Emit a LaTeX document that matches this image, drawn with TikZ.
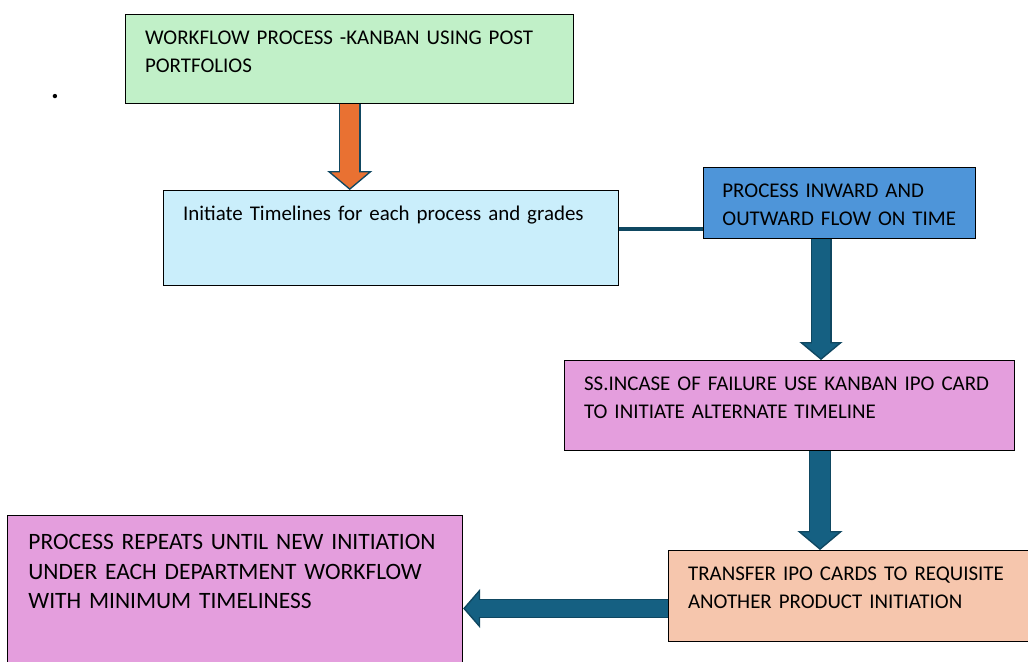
\documentclass[tikz,border=0pt]{standalone}
\usepackage{fontspec}
\setmainfont{Carlito}[WordSpace=0.7]
\usepackage{tikz}
\usetikzlibrary{arrows.meta, calc}
\definecolor{kbgreen}{HTML}{C1F0C8}
\definecolor{kblightblue}{HTML}{CAEEFB}
\definecolor{kbblue}{HTML}{4E95D9}
\definecolor{kbpink}{HTML}{E49EDD}
\definecolor{kbpeach}{HTML}{F6C6AD}
\definecolor{kborange}{HTML}{E97132}
\definecolor{kbteal}{HTML}{156082}
\definecolor{kbedge}{HTML}{0F4761}

\begin{document}
\begin{tikzpicture}[
  x=0.75pt, y=-0.75pt,
  box/.style={draw=black, line width=1.1pt, anchor=north west, align=left,
              inner xsep=14.5pt, inner ysep=0pt, text height=22.5pt,
              font=\fontsize{15.7}{20.5}\selectfont},
  link/.style={line width=3.5pt, kbedge},
  rim/.style={kbedge},
]
\clip (0,0) rectangle (1028,661);
\useasboundingbox (0,0) rectangle (1028,661);

\node[box, fill=kbgreen, text width=307pt, text depth=44.25pt] (green) at (125,14)
  {WORKFLOW PROCESS -KANBAN USING POST\\PORTFOLIOS};
\node[font=\fontsize{22}{22}\bfseries, inner sep=0pt] (dot) at (55,97) {.};

\node[box, fill=kblightblue, text width=312pt, text depth=48.75pt] (lblue) at (163,190)
  {Initiate Timelines for each process and grades};
\node[box, fill=kbblue, text width=176pt, inner xsep=14pt, text depth=30.75pt] (blue) at (703,167)
  {PROCESS INWARD AND\\OUTWARD FLOW ON TIME};
\node[box, fill=kbpink, text width=308.5pt, text depth=45pt] (pink) at (564,360)
  {SS.INCASE OF FAILURE USE KANBAN IPO CARD\\TO INITIATE ALTERNATE TIMELINE};
\node[box, fill=kbpeach, text width=245pt, text depth=45.75pt] (peach) at (668,550)
  {TRANSFER IPO CARDS TO REQUISITE\\ANOTHER PRODUCT INITIATION};
\node[box, fill=kbpink, text width=310pt, text height=25.5pt, text depth=94.5pt,
      inner xsep=15.5pt, font=\fontsize{17.6}{22}\selectfont] (final) at (7,515)
  {PROCESS REPEATS UNTIL NEW INITIATION\\UNDER EACH DEPARTMENT WORKFLOW\\WITH MINIMUM TIMELINESS};

% arrows
\coordinate (a1) at ($(lblue.north east)+(0,39)$);
\coordinate (a2) at ($(blue.south west)+(118,0)$);
\coordinate (a3) at ($(pink.south west)+(256,0)$);
\coordinate (a4) at ($(peach.south west)+(0,-34)$);

\draw[rim, line width=16.5pt,
      -{Triangle[width=33.75pt, length=14.25pt, line width=1pt, fill=kborange]}]
  (green.south) -- (green.south |- lblue.north);
\draw[kborange, line width=14.5pt, shorten >=13pt] (green.south) -- (green.south |- lblue.north);

\draw[link] (a1) -- (a1 -| blue.west);

\draw[rim, line width=15.75pt,
      -{Triangle[width=32.25pt, length=13.5pt, line width=1pt, fill=kbteal]}]
  (a2) -- (a2 |- pink.north);
\draw[kbteal, line width=13.75pt, shorten >=12.3pt] (a2) -- (a2 |- pink.north);

\draw[rim, line width=16.5pt,
      -{Triangle[width=33.75pt, length=14.25pt, line width=1pt, fill=kbteal]}]
  (a3) -- (a3 |- peach.north);
\draw[kbteal, line width=14.5pt, shorten >=13pt] (a3) -- (a3 |- peach.north);

\draw[rim, line width=14.25pt,
      -{Triangle[width=29.25pt, length=12.75pt, line width=1pt, fill=kbteal]}]
  (a4) -- (a4 -| final.east);
\draw[kbteal, line width=12.25pt, shorten >=11.5pt] (a4) -- (a4 -| final.east);

\end{tikzpicture}
\end{document}
